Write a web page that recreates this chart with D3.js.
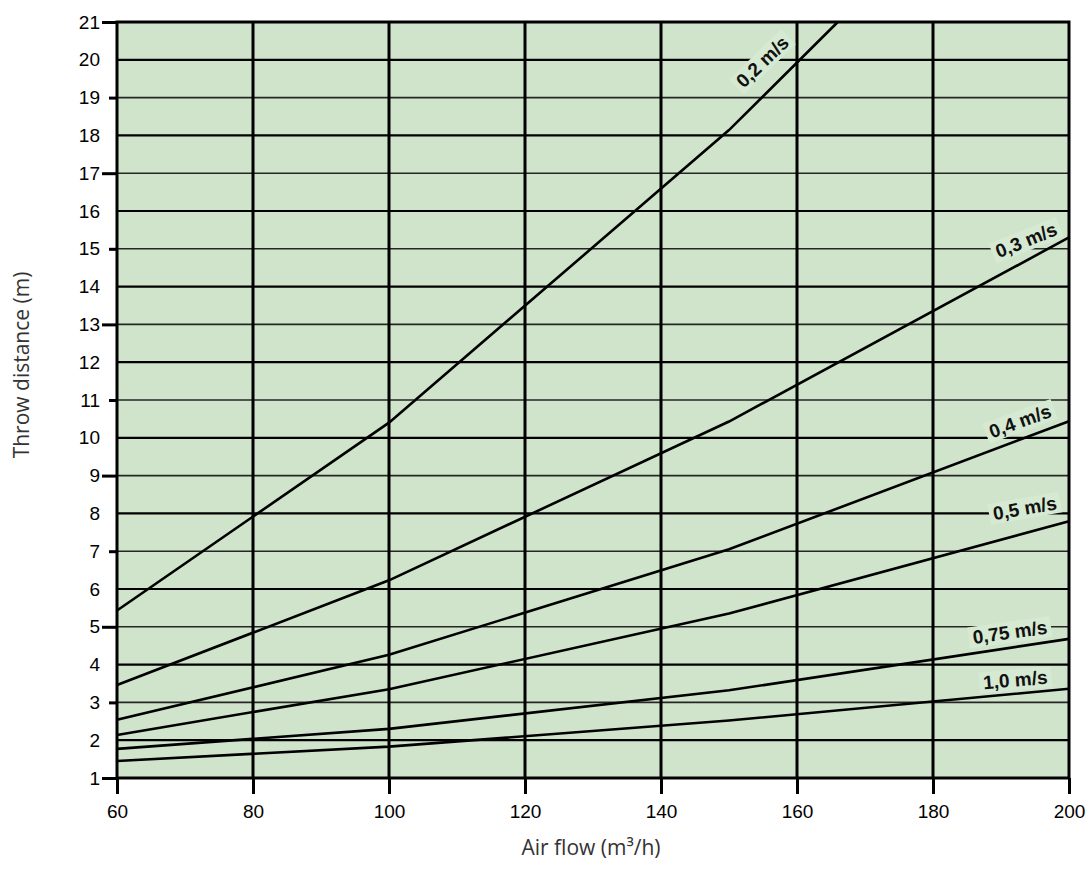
<!DOCTYPE html>
<html>
<head>
<meta charset="utf-8">
<script src="https://cdnjs.cloudflare.com/ajax/libs/d3/7.8.5/d3.min.js"></script>
<style>
    body { margin: 0; background: #fff; }
    svg { display: block; }
</style>
</head>
<body>
<div id="chart"></div>
<script>
(function() {
    // air flow points (m3/h) where the curves bend
    var airFlow = [60, 100, 150, 200];

    // throw distance (m) per terminal velocity
    var throw02 = [5.43, 10.40, 18.14, 21.0];
    var throw02Flow = [60, 100, 150, 166];
    var throw03 = [3.46, 6.23, 10.43, 15.30];
    var throw04 = [2.54, 4.26, 7.05, 10.44];
    var throw05 = [2.14, 3.35, 5.35, 7.79];
    var throw075 = [1.77, 2.30, 3.32, 4.68];
    var throw10 = [1.45, 1.83, 2.52, 3.36];

    var seriesNames = ['0,2 m/s', '0,3 m/s', '0,4 m/s', '0,5 m/s', '0,75 m/s', '1,0 m/s'];

    var xTicks = [60, 80, 100, 120, 140, 160, 180, 200];
    var yTicks = d3.range(1, 22);

    var WIDTH = 1090, HEIGHT = 887;
    var MARGINS = {top: 22, right: 21, bottom: 109, left: 117};
    var TICK_FONT = 'Liberation Sans, Arial, Helvetica, sans-serif';
    var TITLE_FONT = 'Open Sans, Noto Sans, sans-serif';

    var series = [
        {name: seriesNames[0], flow: throw02Flow, values: throw02},
        {name: seriesNames[1], flow: airFlow, values: throw03},
        {name: seriesNames[2], flow: airFlow, values: throw04},
        {name: seriesNames[3], flow: airFlow, values: throw05},
        {name: seriesNames[4], flow: airFlow, values: throw075},
        {name: seriesNames[5], flow: airFlow, values: throw10}
    ];

    // label placement (centre in data units) and rotation
    var labelSpots = [
        {x: 154.9, y: 19.95, angle: -44},
        {x: 193.7, y: 15.23, angle: -22},
        {x: 192.8, y: 10.44, angle: -20},
        {x: 193.5, y: 8.14, angle: -10},
        {x: 191.3, y: 4.86, angle: -8},
        {x: 192.1, y: 3.6, angle: -5}
    ];

    var graphWidth = WIDTH - MARGINS.left - MARGINS.right;
    var graphHeight = HEIGHT - MARGINS.top - MARGINS.bottom;

    var svg = d3.select('#chart').append('svg')
        .attr('width', WIDTH)
        .attr('height', HEIGHT);

    var g = svg.append('g')
        .attr('transform', 'translate(' + MARGINS.left + ',' + MARGINS.top + ')');

    var x = d3.scaleLinear().domain([60, 200]).range([0, graphWidth]);
    var y = d3.scaleLinear().domain([1, 21]).range([graphHeight, 0]);

    // plot background
    g.append('rect')
        .attr('width', graphWidth)
        .attr('height', graphHeight)
        .attr('fill', '#cfe4cb');

    // horizontal grid, even values a bit heavier
    g.selectAll('.hgrid')
        .data(yTicks.slice(1, -1))
        .enter().append('line')
        .attr('class', 'hgrid')
        .attr('x1', 0).attr('x2', graphWidth)
        .attr('y1', function(d) { return y(d); })
        .attr('y2', function(d) { return y(d); })
        .attr('stroke', function(d) { return d % 2 === 0 ? '#000' : '#262626'; })
        .attr('stroke-width', function(d) { return d % 2 === 0 ? 2.2 : 1.6; });

    // vertical grid
    g.selectAll('.vgrid')
        .data(xTicks.slice(1, -1))
        .enter().append('line')
        .attr('class', 'vgrid')
        .attr('y1', 0).attr('y2', graphHeight)
        .attr('x1', function(d) { return x(d); })
        .attr('x2', function(d) { return x(d); })
        .attr('stroke', '#000')
        .attr('stroke-width', 3);

    // curves
    var valueLine = d3.line()
        .x(function(d) { return x(d[0]); })
        .y(function(d) { return y(d[1]); });

    g.selectAll('.curve')
        .data(series)
        .enter().append('path')
        .attr('class', 'curve')
        .attr('fill', 'none')
        .attr('stroke', '#000')
        .attr('stroke-width', 2.6)
        .attr('d', function(s) { return valueLine(d3.zip(s.flow, s.values)); });

    // curve labels on a light patch that hides the grid
    var labels = g.selectAll('.curve-label')
        .data(series)
        .enter().append('g')
        .attr('class', 'curve-label')
        .attr('transform', function(s, i) {
            var p = labelSpots[i];
            return 'translate(' + x(p.x) + ',' + y(p.y) + ') rotate(' + p.angle + ')';
        });

    labels.append('text')
        .attr('text-anchor', 'middle')
        .attr('dy', '0.35em')
        .style('font-family', TICK_FONT)
        .style('font-weight', 'bold')
        .style('font-size', '19px')
        .attr('fill', '#111')
        .text(function(s) { return s.name; })
        .each(function() {
            var box = this.getBBox();
            d3.select(this.parentNode).insert('rect', 'text')
                .attr('x', box.x - 4)
                .attr('y', box.y)
                .attr('width', box.width + 8)
                .attr('height', box.height)
                .attr('fill', '#d6e9d2');
        });

    // frame
    g.append('rect')
        .attr('width', graphWidth)
        .attr('height', graphHeight)
        .attr('fill', 'none')
        .attr('stroke', '#000')
        .attr('stroke-width', 3);

    // Y axis: long ticks every 4, short ticks on the other odd values
    var yAxis = d3.axisLeft(y)
        .tickValues(yTicks)
        .tickSize(0)
        .tickPadding(17)
        .tickFormat(d3.format('d'));

    var yAxisG = g.append('g').attr('class', 'y axis').call(yAxis);
    yAxisG.select('.domain').remove();
    yAxisG.selectAll('.tick line')
        .attr('x2', function(d) {
            if (d % 4 === 1) { return -15; }
            if (d % 2 === 1) { return -8; }
            return 0;
        })
        .attr('stroke', '#000')
        .attr('stroke-width', 3);

    // X axis
    var xAxis = d3.axisBottom(x)
        .tickValues(xTicks)
        .tickSize(16)
        .tickPadding(11)
        .tickFormat(d3.format('d'));

    var xAxisG = g.append('g')
        .attr('class', 'x axis')
        .attr('transform', 'translate(0,' + graphHeight + ')')
        .call(xAxis);
    xAxisG.select('.domain').remove();
    xAxisG.selectAll('.tick line')
        .attr('stroke', '#000')
        .attr('stroke-width', 3);

    svg.selectAll('.axis')
        .attr('font-family', null)
        .attr('font-size', null);
    svg.selectAll('.axis text')
        .style('font-family', TICK_FONT)
        .style('font-size', '19px')
        .attr('fill', '#000');

    // axis titles
    svg.append('text')
        .attr('x', 591)
        .attr('y', 855)
        .attr('text-anchor', 'middle')
        .style('font-family', TITLE_FONT)
        .style('font-size', '21px')
        .attr('fill', '#333')
        .text('Air flow (m³/h)');

    svg.append('text')
        .attr('transform', 'translate(29,365) rotate(-90)')
        .attr('text-anchor', 'middle')
        .style('font-family', TITLE_FONT)
        .style('font-size', '21px')
        .attr('fill', '#333')
        .text('Throw distance (m)');
})();
</script>
</body>
</html>
